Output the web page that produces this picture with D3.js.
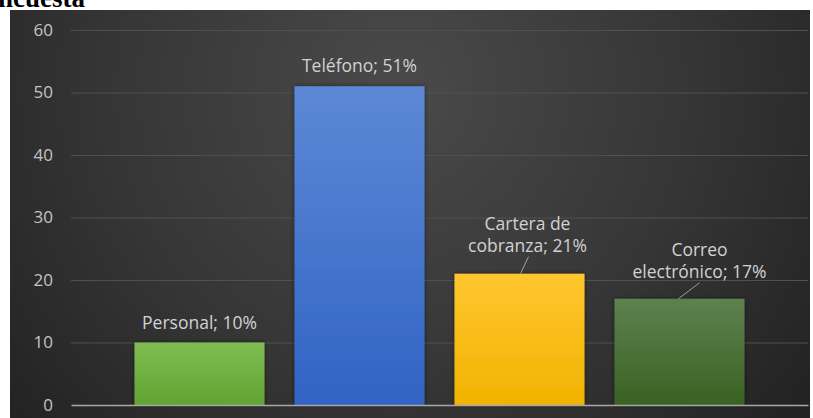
<!DOCTYPE html>
<html>
<head>
<meta charset="utf-8">
<script src="https://cdn.jsdelivr.net/npm/d3@7"></script>
<style>
  html, body { margin: 0; padding: 0; background: #ffffff; }
  svg { display: block; }
</style>
</head>
<body>
<svg id="chart" width="813" height="418"></svg>
<script>
// Canal de contacto con el cliente (porcentaje de respuestas)
const categories = ["Personal", "Teléfono", "Cartera de cobranza", "Correo electrónico"];
const values = [10, 51, 21, 17];
const yTicks = [0, 10, 20, 30, 40, 50, 60];
const titleText = "Encuesta";

const barColors = [
  ["#7fbc53", "#62a332"],
  ["#5d88d6", "#3064c4"],
  ["#ffc630", "#f1b300"],
  ["#5e8150", "#3a6222"]
];

// label placement relative to each bar top (dx, dy of the last text line centre)
const labelOffsets = [
  { dx: 0, dy: -20, leader: false },
  { dx: 0, dy: -20, leader: false },
  { dx: 8, dy: -28, leader: true },
  { dx: 20, dy: -27, leader: true }
];

const W = 813, H = 418;
const FONT = "'Open Sans', Lato, sans-serif";
const svg = d3.select("#chart");
const defs = svg.append("defs");

// panel background
const bg = defs.append("radialGradient")
  .attr("id", "panelBg")
  .attr("gradientUnits", "userSpaceOnUse")
  .attr("cx", 400).attr("cy", 90).attr("r", 520);
bg.append("stop").attr("offset", "0%").attr("stop-color", "#4a4a4a");
bg.append("stop").attr("offset", "55%").attr("stop-color", "#363636");
bg.append("stop").attr("offset", "100%").attr("stop-color", "#222222");

barColors.forEach((c, i) => {
  const g = defs.append("linearGradient")
    .attr("id", "bar" + i)
    .attr("x1", 0).attr("y1", 0).attr("x2", 0).attr("y2", 1);
  g.append("stop").attr("offset", "0%").attr("stop-color", c[0]);
  g.append("stop").attr("offset", "100%").attr("stop-color", c[1]);
});

const shadow = defs.append("filter").attr("id", "barShadow")
  .attr("x", "-10%").attr("y", "-10%").attr("width", "120%").attr("height", "120%");
shadow.append("feDropShadow")
  .attr("dx", 0).attr("dy", 0).attr("stdDeviation", 2)
  .attr("flood-color", "#000").attr("flood-opacity", 0.5);

const clip = defs.append("clipPath").attr("id", "titleClip");
clip.append("rect").attr("x", 0).attr("y", 0).attr("width", W).attr("height", 10);

// heading above the panel, only its lower edge shows
svg.append("text")
  .attr("clip-path", "url(#titleClip)")
  .attr("x", -20).attr("y", 7)
  .attr("font-family", "'Liberation Serif', 'DejaVu Serif', serif")
  .attr("font-weight", "bold")
  .attr("font-size", 27)
  .attr("fill", "#000")
  .text(titleText);

// dark panel
svg.append("rect")
  .attr("x", 10).attr("y", 10)
  .attr("width", 800).attr("height", H - 10)
  .attr("fill", "url(#panelBg)");

const x = d3.scaleBand()
  .domain(categories)
  .range([71, 808])
  .paddingInner(0.1875)
  .paddingOuter(0.397);

const y = d3.scaleLinear().domain([0, 60]).range([405, 30]);

// gridlines and value axis
const yAxis = d3.axisLeft(y).tickValues(yTicks).tickSize(-(808 - 71)).tickPadding(18);
const gy = svg.append("g").attr("transform", "translate(71,0)").call(yAxis);
gy.select(".domain").remove();
gy.selectAll(".tick line")
  .attr("stroke", "#505050")
  .attr("stroke-width", 1);
gy.selectAll(".tick text")
  .attr("fill", "#c4c4c4")
  .attr("font-family", FONT)
  .attr("font-size", 17);
gy.selectAll(".tick").filter(d => d === 0).select("line").attr("stroke", "none");

// bars
svg.append("g").selectAll("rect")
  .data(values)
  .join("rect")
  .attr("x", (d, i) => x(categories[i]))
  .attr("y", d => y(d))
  .attr("width", x.bandwidth())
  .attr("height", d => y(0) - y(d))
  .attr("fill", (d, i) => `url(#bar${i})`)
  .attr("filter", "url(#barShadow)");

// category axis baseline
const xAxis = d3.axisBottom(x).tickSize(0).tickFormat("");
const gx = svg.append("g").attr("transform", `translate(0,${y(0)})`).call(xAxis);
gx.select(".domain").attr("stroke", "#a8a8a8").attr("stroke-width", 1.5);

// data labels
const labels = svg.append("g")
  .attr("font-family", FONT)
  .attr("font-size", 17.5)
  .attr("fill", "#d2d2d2");

values.forEach((v, i) => {
  const words = categories[i].split(" ");
  const last = words[words.length - 1] + "; " + v + "%";
  const lines = words.length > 1 ? [words.slice(0, -1).join(" "), last] : [last];
  const off = labelOffsets[i];
  const cx = x(categories[i]) + x.bandwidth() / 2;
  const lx = cx + off.dx;
  const ly = y(v) + off.dy;
  const lineH = 22;
  const t = labels.append("text")
    .attr("text-anchor", "middle");
  lines.forEach((s, k) => {
    t.append("tspan")
      .attr("x", lx)
      .attr("y", ly - (lines.length - 1 - k) * lineH)
      .attr("dy", "0.35em")
      .text(s);
  });
  if (off.leader) {
    svg.append("line")
      .attr("x1", lx + (i === 2 ? 1 : 0)).attr("y1", ly + 11)
      .attr("x2", cx + (i === 2 ? 1 : -1)).attr("y2", y(v))
      .attr("stroke", "#a0a0a0").attr("stroke-width", 1);
  }
});
</script>
</body>
</html>
